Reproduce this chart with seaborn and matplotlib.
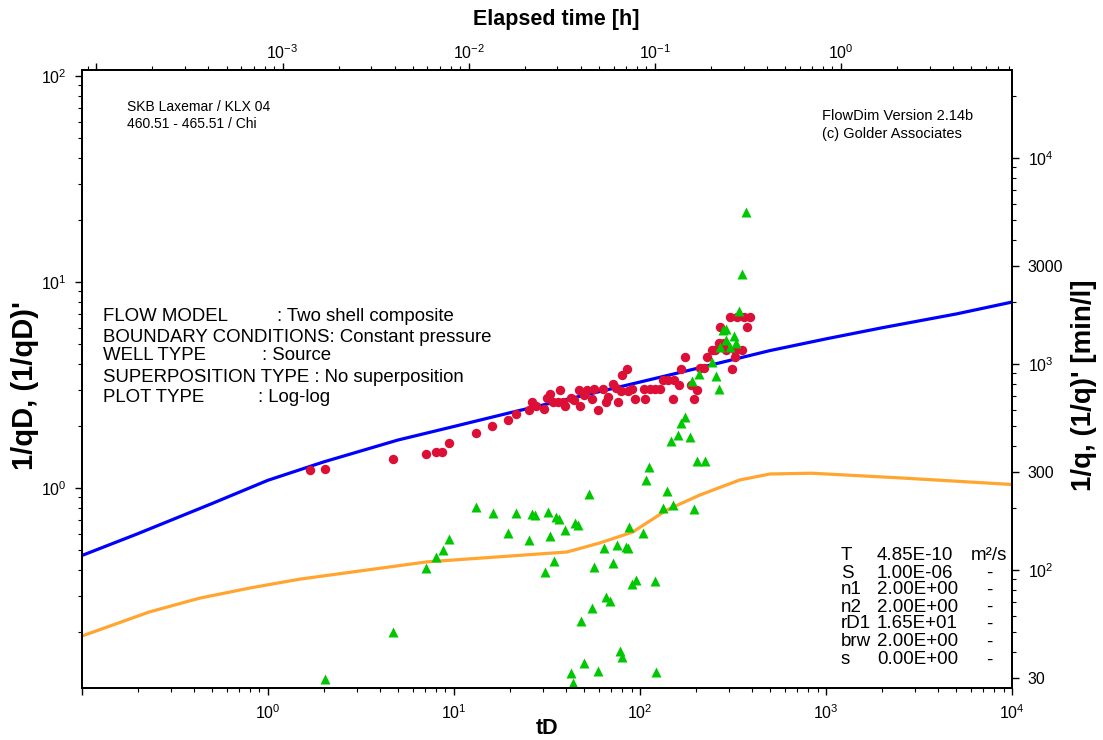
import matplotlib
matplotlib.use("Agg")
import matplotlib.pyplot as plt
import matplotlib.ticker as mticker
import seaborn as sns

# ---------------- data ----------------
model_td = [0.1, 0.2, 0.5, 1, 2, 5, 10, 20, 50, 100, 200, 500, 1000, 2000, 5000, 10000]
model_q = [0.47, 0.60, 0.84, 1.09, 1.34, 1.71, 1.99, 2.32, 2.82, 3.27, 3.80, 4.65, 5.30, 6.00, 7.00, 8.00]

deriv_td = [0.1, 0.23, 0.43, 0.80, 1.48, 7.15, 40.4, 60.7, 91.2, 139, 209, 343, 498, 837, 2490, 10000]
deriv_q = [0.191, 0.25, 0.292, 0.327, 0.361, 0.438, 0.489, 0.541, 0.611, 0.782, 0.924, 1.094, 1.17, 1.18, 1.12, 1.04]

red_td = [1.69, 2.04, 4.70, 7.11, 8.04, 8.66, 9.40, 13.2, 16.1, 19.4, 21.5, 25.3, 26.2, 27.5,
          30.5, 31.6, 33.0, 34.1, 36.4, 37.0, 38.5, 39.5, 42.3, 44.4, 46.7, 47.8, 49.8, 51.9,
          55.0, 56.4, 59.7, 63.2, 65.9, 67.6, 71.6, 74.7, 75.9, 79.4, 80.4, 85.1, 86.6, 91.0,
          94.0, 105, 106, 113, 120, 128, 132, 142, 150, 153, 161, 166, 175, 187, 194, 203,
          209, 220, 229, 245, 253, 266, 268, 282, 289, 304, 311, 322, 324, 330, 352, 364,
          376, 389]
red_q = [1.22, 1.24, 1.39, 1.46, 1.49, 1.49, 1.66, 1.86, 1.99, 2.14, 2.30, 2.39, 2.61, 2.50,
         2.41, 2.74, 2.86, 2.61, 2.61, 2.99, 2.61, 2.50, 2.73, 2.69, 2.99, 2.50, 2.84, 2.99,
         2.71, 3.01, 2.39, 3.01, 2.61, 2.77, 3.19, 3.06, 2.61, 2.96, 3.52, 3.77, 2.97, 3.01,
         2.72, 3.01, 2.72, 3.01, 3.01, 3.01, 3.34, 3.34, 2.72, 3.34, 3.17, 3.77, 4.31, 3.17,
         2.72, 2.99, 3.82, 3.82, 4.31, 4.68, 4.68, 5.07, 6.07, 5.07, 4.68, 6.78, 3.77, 4.68,
         4.31, 6.78, 4.68, 6.78, 6.07, 6.78]

green_td = [2.04, 4.70, 7.11, 8.04, 8.73, 9.40, 13.2, 16.2, 19.4, 21.6, 25.3, 26.2, 27.3, 30.9,
            31.9, 33.0, 34.4, 35.5, 36.7, 39.5, 44.7, 46.2, 48.2, 49.8, 42.3, 43.6, 53.2, 55.0,
            56.4, 59.7, 63.8, 65.4, 69.3, 71.6, 75.2, 77.8, 80.4, 83.8, 86.6, 87.3, 91.0, 94.8,
            104, 107, 112, 120, 122, 132, 139, 150, 194, 146, 160, 185, 166, 175, 203, 224,
            190, 208, 245, 255, 264, 268, 279, 289, 291, 306, 319, 327, 338, 370, 352]
green_q = [0.118, 0.200, 0.410, 0.464, 0.500, 0.564, 0.805, 0.759, 0.603, 0.754, 0.559, 0.748,
           0.737, 0.391, 0.764, 0.585, 0.444, 0.721, 0.710, 0.625, 0.678, 0.664, 0.225, 0.141,
           0.126, 0.113, 0.935, 0.261, 0.415, 0.129, 0.509, 0.296, 0.282, 0.431, 0.528, 0.161,
           0.151, 0.519, 0.509, 0.644, 0.342, 0.357, 0.603, 1.09, 1.27, 0.355, 0.128, 0.800,
           0.964, 0.824, 0.793, 1.69, 1.80, 1.76, 2.07, 2.22, 1.36, 1.35, 3.32, 3.57, 4.09,
           3.50, 3.03, 4.85, 5.85, 5.23, 5.93, 4.85, 5.47, 5.04, 7.26, 21.9, 10.9]

# axis ranges and conversions
td_range = (0.1, 1.0e4)
qd_range = (0.1066, 107.0)
td_per_hour = 1200.0
q_per_qd = 250.0

bottom_ticks = [0.1, 1, 10, 100, 1000, 10000]
bottom_labels = ["", r"$\mathdefault{10^{0}}$", r"$\mathdefault{10^{1}}$", r"$\mathdefault{10^{2}}$",
                 r"$\mathdefault{10^{3}}$", r"$\mathdefault{10^{4}}$"]
left_ticks = [1, 10, 100]
left_labels = [r"$\mathdefault{10^{0}}$", r"$\mathdefault{10^{1}}$", r"$\mathdefault{10^{2}}$"]
top_ticks = [1e-4, 1e-3, 1e-2, 1e-1, 1]
top_labels = ["", r"$\mathdefault{10^{-3}}$", r"$\mathdefault{10^{-2}}$", r"$\mathdefault{10^{-1}}$",
              r"$\mathdefault{10^{0}}$"]
right_ticks = [30, 100, 300, 1000, 3000, 10000]
right_labels = ["30", r"$\mathdefault{10^{2}}$", "300", r"$\mathdefault{10^{3}}$", "3000",
                r"$\mathdefault{10^{4}}$"]

param_names = ["T", "S", "n1", "n2", "rD1", "brw", "s"]
param_values = ["4.85E-10", "1.00E-06", "2.00E+00", "2.00E+00", "1.65E+01", "2.00E+00", "0.00E+00"]
param_units = ["m²/s", "-", "-", "-", "-", "-", "-"]

info_left = ["FLOW MODEL", "BOUNDARY CONDITIONS: Constant pressure", "WELL TYPE",
             "SUPERPOSITION TYPE : No superposition", "PLOT TYPE"]
info_right = [": Two shell composite", "", ": Source", "", ": Log-log"]

# ---------------- style ----------------
sns.set_style("ticks")
plt.rcParams["font.family"] = ["Liberation Sans", "DejaVu Sans"]
plt.rcParams["mathtext.fontset"] = "custom"
plt.rcParams["mathtext.rm"] = "Liberation Sans"
plt.rcParams["mathtext.it"] = "Liberation Sans:italic"
plt.rcParams["mathtext.bf"] = "Liberation Sans:bold"
plt.rcParams["text.color"] = "black"
plt.rcParams["axes.labelcolor"] = "black"
plt.rcParams["xtick.color"] = "black"
plt.rcParams["ytick.color"] = "black"
plt.rcParams["axes.edgecolor"] = "black"

W, H = 1103, 740
fig = plt.figure(figsize=(W / 100, H / 100), dpi=100)
L, R, T, B = 81.7, 1012.3, 70.0, 688.3
ax = fig.add_axes([L / W, 1 - B / H, (R - L) / W, (B - T) / H])


def fx(px):
    return px / W


def fy(py):
    return 1 - py / H


BLUE = "#0000FF"
ORANGE = "#FFA530"
RED = "#DC0F37"
GREEN = "#00C800"

sns.lineplot(x=model_td, y=model_q, ax=ax, color=BLUE, lw=2.3, sort=False, estimator=None, zorder=2)
sns.lineplot(x=deriv_td, y=deriv_q, ax=ax, color=ORANGE, lw=2.3, sort=False, estimator=None, zorder=2)
sns.scatterplot(x=red_td, y=red_q, ax=ax, color=RED, s=46, marker="o", linewidth=0, zorder=3)
sns.scatterplot(x=green_td, y=green_q, ax=ax, color=GREEN, s=52, marker="^", linewidth=0, zorder=4)

ax.set_xscale("log")
ax.set_yscale("log")
ax.set_xlim(*td_range)
ax.set_ylim(*qd_range)

tick_kw = dict(direction="out", colors="black", labelsize=11.5, labelcolor="black")
ax.xaxis.set_major_locator(mticker.FixedLocator(bottom_ticks))
ax.xaxis.set_major_formatter(mticker.FixedFormatter(bottom_labels))
ax.xaxis.set_minor_locator(mticker.LogLocator(base=10, subs=range(2, 10), numticks=50))
ax.xaxis.set_minor_formatter(mticker.NullFormatter())
ax.yaxis.set_major_locator(mticker.FixedLocator(left_ticks))
ax.yaxis.set_major_formatter(mticker.FixedFormatter(left_labels))
ax.yaxis.set_minor_locator(mticker.LogLocator(base=10, subs=range(2, 10), numticks=50))
ax.yaxis.set_minor_formatter(mticker.NullFormatter())
ax.tick_params(which="major", length=5, width=1, pad=6, **tick_kw)
ax.tick_params(which="minor", length=3, width=0.8, direction="out", colors="black")
ax.set_xlabel("")
ax.set_ylabel("")
for sp in ax.spines.values():
    sp.set_visible(True)
    sp.set_linewidth(1.2)
    sp.set_color("black")

# top axis: elapsed time
axt = ax.twiny()
axt.set_xscale("log")
axt.set_xlim(td_range[0] / td_per_hour, td_range[1] / td_per_hour)
axt.xaxis.set_major_locator(mticker.FixedLocator(top_ticks))
axt.xaxis.set_major_formatter(mticker.FixedFormatter(top_labels))
axt.xaxis.set_minor_locator(mticker.LogLocator(base=10, subs=range(2, 10), numticks=50))
axt.xaxis.set_minor_formatter(mticker.NullFormatter())
axt.tick_params(which="major", length=5, width=1, pad=1, **tick_kw)
axt.tick_params(which="minor", length=3, width=0.8, direction="out", colors="black")

# right axis: 1/q
axr = ax.twinx()
axr.set_yscale("log")
axr.set_ylim(qd_range[0] * q_per_qd, qd_range[1] * q_per_qd)
axr.yaxis.set_major_locator(mticker.FixedLocator(right_ticks))
axr.yaxis.set_major_formatter(mticker.FixedFormatter(right_labels))
right_minor = [m * d for d in (10, 100, 1000, 10000) for m in range(2, 10) if m != 3]
axr.yaxis.set_minor_locator(mticker.FixedLocator(right_minor))
axr.yaxis.set_minor_formatter(mticker.NullFormatter())
axr.tick_params(which="major", length=5, width=1, pad=6, **tick_kw)
axr.tick_params(which="minor", length=3, width=0.8, direction="out", colors="black")
for a in (axt, axr):
    for sp in a.spines.values():
        sp.set_linewidth(1.2)
        sp.set_color("black")

# axis titles
fig.text(fx(556), fy(20), "Elapsed time [h]", ha="center", va="center", fontsize=15.5, fontweight="bold")
fig.text(fx(547), fy(729), "tD", ha="center", va="center", fontsize=15.5, fontweight="bold")
fig.text(fx(25), fy(385), "1/qD, (1/qD)'", ha="center", va="center", rotation=90, fontsize=21,
         fontweight="bold")
fig.text(fx(1084), fy(385), "1/q, (1/q)' [min/l]", ha="center", va="center", rotation=90,
         fontsize=20, fontweight="bold")

# annotations
fig.text(fx(127), fy(107), "SKB Laxemar / KLX 04", ha="left", va="center", fontsize=10)
fig.text(fx(127), fy(124), "460.51 - 465.51 / Chi", ha="left", va="center", fontsize=10)
fig.text(fx(822), fy(116), "FlowDim Version 2.14b", ha="left", va="center", fontsize=10.5)
fig.text(fx(822), fy(134), "(c) Golder Associates", ha="left", va="center", fontsize=10.5)

info_y = [316, 337, 356, 377, 398]
info_x2 = [277, None, 262, None, 258]
for txt_l, txt_r, yy, xx in zip(info_left, info_right, info_y, info_x2):
    fig.text(fx(103), fy(yy), txt_l, ha="left", va="center", fontsize=13.4)
    if txt_r:
        fig.text(fx(xx), fy(yy), txt_r, ha="left", va="center", fontsize=13.4)

row_y = [556, 573, 590, 607, 624, 642, 660]
for name, val, unit, yy in zip(param_names, param_values, param_units, row_y):
    fig.text(fx(841), fy(yy), name, ha="left", va="center", fontsize=13.5)
    fig.text(fx(877), fy(yy), val, ha="left", va="center", fontsize=13.5)
    if unit == "-":
        fig.text(fx(989), fy(yy), unit, ha="center", va="center", fontsize=13.5)
    else:
        fig.text(fx(971), fy(yy), unit, ha="left", va="center", fontsize=13.5)

fig.savefig("out.png", dpi=100)
